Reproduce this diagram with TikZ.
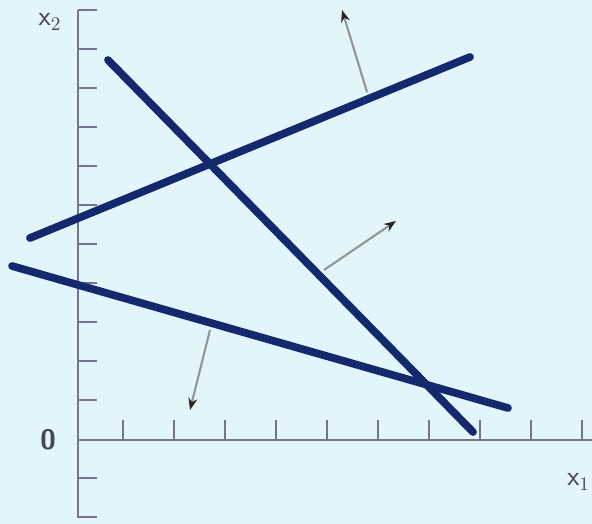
\documentclass[tikz,border=0pt]{standalone}
\usepackage{xcolor}
\usepackage{tikz}
\usetikzlibrary{arrows.meta, positioning, calc}
\definecolor{paper}{RGB}{226,245,250}
\definecolor{ink}{RGB}{20,40,110}
\definecolor{axisgray}{RGB}{118,116,140}
\definecolor{normalgray}{RGB}{145,150,150}

\begin{document}
\begin{tikzpicture}[
    x=0.02cm, y=-0.02cm,
    axis/.style={draw=axisgray, line width=1.4pt},
    tick/.style={draw=axisgray, line width=1.4pt},
    boundary/.style={draw=ink, line width=4.4pt, line cap=round},
    normal/.style={draw=normalgray, line width=1.2pt, -{Stealth[length=2.4mm, width=1.8mm, color=black!85, fill=black!85]}},
    axlabel/.style={font=\sffamily\fontsize{16}{18}\selectfont, text=axisgray!60!black}
]
\useasboundingbox (0,0) rectangle (592,524);
\fill[paper] (0,0) rectangle (592,524);

% axes
\coordinate (o) at (78,440);
\coordinate (ytop) at (78,10);
\coordinate (ybot) at (78,518);
\coordinate (xend) at (592,440);
\draw[axis] (ytop) -- (ybot);
\draw[axis] (o) -- (xend);
\foreach \k in {0,...,10}
    \draw[tick] (78,{10+39*\k}) -- ++(19,0);
\draw[tick] (78,478) -- ++(19,0);
\draw[tick] (78,517) -- ++(19,0);
\foreach \k in {0,...,9}
    \draw[tick] ({123+51*\k},440) -- ++(0,-20);

\node[axlabel] (lx2) at (50,22) {x$_2$};
\node[axlabel, font=\sffamily\bfseries\fontsize{16}{18}\selectfont] (l0) at (48,440) {0};
\node[axlabel, anchor=east, inner sep=1pt] (lx1) at (592,482) {x$_1$};

% boundary lines
\coordinate (a1) at (108,60);
\coordinate (a2) at (473,432);
\coordinate (b1) at (30,238);
\coordinate (b2) at (470,57);
\coordinate (c1) at (12,266);
\coordinate (c2) at (508,408);
\draw[boundary] (a1) -- (a2);
\draw[boundary] (b1) -- (b2);
\draw[boundary] (c1) -- (c2);

% normals
\coordinate (nb) at (367,92);
\coordinate (nbt) at (342,10);
\coordinate (na) at (324,270);
\coordinate (nat) at (396,221);
\coordinate (nc) at (210,330);
\coordinate (nct) at (190,410);
\draw[normal] (nb) -- (nbt);
\draw[normal] (na) -- (nat);
\draw[normal] (nc) -- (nct);
\end{tikzpicture}
\end{document}
